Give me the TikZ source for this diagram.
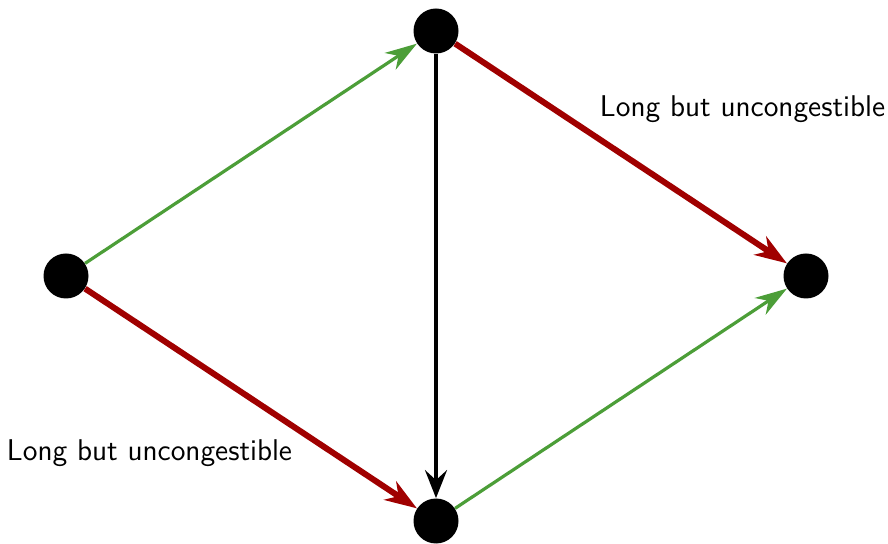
\documentclass[tikz,border=0pt]{standalone}
\usetikzlibrary{arrows.meta}
\definecolor{egreen}{RGB}{76,158,56}
\definecolor{ered}{RGB}{160,0,0}
\begin{document}
\begin{tikzpicture}[x=0.5pt,y=-0.5pt,
  vert/.style={circle,fill=black,minimum size=22.5pt,inner sep=0pt},
  gedge/.style={draw=egreen,line width=1.6pt,-{Stealth[length=16pt,width=10pt,inset=5pt]}},
  redge/.style={draw=ered,line width=3pt,-{Stealth[length=16pt,width=11pt,inset=5pt]}},
  bedge/.style={draw=black,line width=1.7pt,-{Stealth[length=14pt,width=11pt,inset=5pt]}},
  lbl/.style={font=\sffamily\fontsize{15}{18}\selectfont,inner sep=0pt}]
\useasboundingbox (0,0) rectangle (888,544);
\node[vert] (s) at (66,276) {};
\node[vert] (a) at (436,31) {};
\node[vert] (t) at (806,276) {};
\node[vert] (b) at (436,521) {};
\draw[gedge] (s) -- (a);
\draw[redge] (s) -- (b);
\draw[bedge] (a) -- (b);
\draw[redge] (a) -- (t);
\draw[gedge] (b) -- (t);
\node[lbl] (l1) at (742.5,109) {Long but uncongestible};
\node[lbl] (l2) at (149.5,453) {Long but uncongestible};
\end{tikzpicture}
\end{document}
